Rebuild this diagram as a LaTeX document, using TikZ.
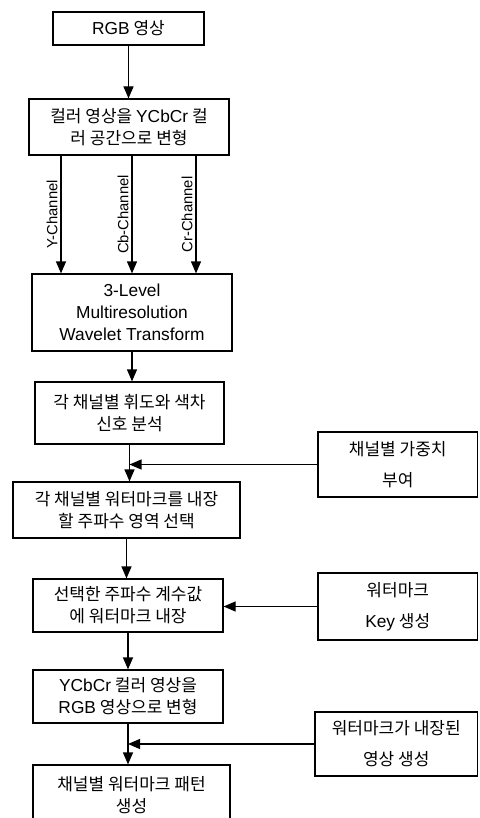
\documentclass[tikz,border=0pt]{standalone}
\usepackage{fontspec}
\setmainfont{Noto Sans CJK KR}
\newfontfamily\lat[Scale=1.02]{Liberation Sans}
\usetikzlibrary{arrows.meta}

\tikzset{
  box/.style={draw, line width=1.2pt, align=center, inner sep=0pt,
    font=\fontsize{17}{22}\selectfont},
  sidebox/.style={box, font=\fontsize{17}{31}\selectfont},
  arr/.style={-{Triangle[length=12pt,width=10pt]}, line width=1.2pt},
  chan/.style={rotate=90, anchor=south, inner sep=3pt,
    font=\fontsize{14.5}{16}\selectfont\lat}
}

\begin{document}
\begin{tikzpicture}[x=1pt, y=-1pt]
    \useasboundingbox (0,0) rectangle (479,818);
    % main column
    \node[box, minimum width=151pt, minimum height=33pt] (rgb) at (128.5,28.5) {{\lat RGB} 영상};
    \node[box, minimum width=200pt, minimum height=56pt] (conv) at (129,127) {컬러 영상을 {\lat YCbCr} 컬\\러 공간으로 변형};
    \node[box, minimum width=200pt, minimum height=77pt, font=\fontsize{17}{22}\selectfont\lat] (dwt) at (132,312.5) {3-Level\\Multiresolution\\Wavelet Transform};
    \node[box, minimum width=189pt, minimum height=62pt] (ana) at (129.5,413) {각 채널별 휘도와 색차\\신호 분석};
    \node[box, minimum width=227pt, minimum height=56pt] (sel) at (126.5,510) {각 채널별 워터마크를 내장\\할 주파수 영역 선택};
    \node[box, minimum width=190pt, minimum height=53pt] (emb) at (128,605.5) {선택한 주파수 계수값\\에 워터마크 내장};
    \node[box, minimum width=190pt, minimum height=53pt] (inv) at (128,696.5) {{\lat YCbCr} 컬러 영상을\\{\lat RGB} 영상으로 변형};
    \node[box, minimum width=197pt, minimum height=60pt] (pat) at (131.5,795) {채널별 워터마크 패턴\\생성};
    % side inputs
    \node[sidebox, minimum width=159.5pt, minimum height=65pt] (wgt) at (397.75,464.5) {채널별 가중치\\부여};
    \node[sidebox, minimum width=159.5pt, minimum height=67pt] (key) at (397.75,606.5) {워터마크\\{\lat Key} 생성};
    \node[sidebox, minimum width=162.5pt, minimum height=64pt] (out) at (396.25,744) {워터마크가 내장된\\영상 생성};

    \draw[arr] (rgb.south) -- (rgb.south |- conv.north);
    \foreach \cx/\cn in {61/Y, 132/Cb, 196/Cr}
        \draw[arr] (\cx,0 |- conv.south) -- (\cx,0 |- dwt.north) node[chan, midway] {\cn-Channel};
    \draw[arr] (dwt.south) -- (dwt.south |- ana.north);
    \draw[arr] (ana.south) -- (ana.south |- sel.north);
    \draw[arr] (wgt.west) -- (wgt.west -| ana.south);
    \draw[arr] (sel.south) -- (sel.south |- emb.north);
    \draw[arr] (key.west) -- (key.west -| emb.east);
    \draw[arr] (emb.south) -- (emb.south |- inv.north);
    \draw[arr] (inv.south) -- (inv.south |- pat.north);
    \draw[arr] (out.west) -- (out.west -| inv.south);
\end{tikzpicture}
\end{document}
